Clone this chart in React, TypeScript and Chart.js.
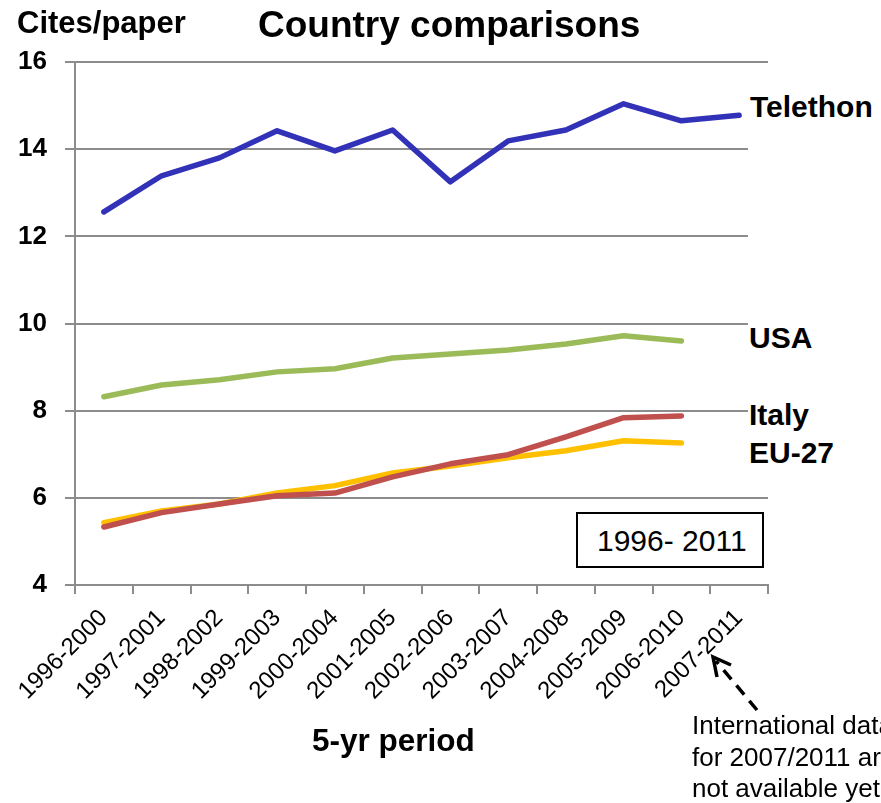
import React, { useEffect, useRef } from 'react';
import { Chart, registerables } from 'chart.js';

Chart.register(...registerables);

const categories = [
  '1996-2000', '1997-2001', '1998-2002', '1999-2003', '2000-2004', '2001-2005',
  '2002-2006', '2003-2007', '2004-2008', '2005-2009', '2006-2010', '2007-2011',
];
const telethon = [12.56, 13.39, 13.8, 14.42, 13.96, 14.44, 13.25, 14.19, 14.44, 15.04, 14.65, 14.78];
const usa = [8.32, 8.59, 8.71, 8.89, 8.96, 9.21, 9.3, 9.39, 9.53, 9.72, 9.6, null];
const italy = [5.33, 5.66, 5.86, 6.05, 6.11, 6.48, 6.78, 6.99, 7.4, 7.84, 7.88, null];
const eu27 = [5.43, 5.7, 5.86, 6.11, 6.28, 6.57, 6.73, 6.92, 7.08, 7.31, 7.26, null];
const yMin = 4;
const yMax = 16;
const yStep = 2;

const FONT = "'Liberation Sans', Arial, sans-serif";
const GRID = '#8c8c8c';

const abs = (extra: React.CSSProperties): React.CSSProperties => ({
  position: 'absolute',
  fontFamily: FONT,
  lineHeight: 1,
  whiteSpace: 'nowrap',
  color: '#000',
  ...extra,
});

export default function App() {
  const ref = useRef<HTMLCanvasElement>(null);

  useEffect(() => {
    const ds = (label: string, data: (number | null)[], color: string) => ({
      label,
      data,
      borderColor: color,
      backgroundColor: color,
      borderWidth: 5.5,
      pointRadius: 0,
      tension: 0,
      borderCapStyle: 'round' as const,
      borderJoinStyle: 'round' as const,
      spanGaps: false,
    });
    const chart = new Chart(ref.current!, {
      type: 'line',
      data: {
        labels: categories,
        datasets: [
          ds('Telethon', telethon, '#3232B9'),
          ds('USA', usa, '#9BBB59'),
          ds('Italy', italy, '#C0504D'),
          ds('EU-27', eu27, '#FFC000'),
        ],
      },
      options: {
        animation: false,
        responsive: false,
        layout: { padding: { top: 62, right: 113, left: 0, bottom: 0 } },
        plugins: { legend: { display: false }, tooltip: { enabled: false }, title: { display: false } },
        scales: {
          x: {
            type: 'category',
            offset: true,
            grid: {
              offset: true,
              drawOnChartArea: false,
              drawTicks: true,
              tickLength: 9,
              color: GRID,
              lineWidth: 2,
            },
            border: { display: true, color: GRID, width: 2 },
            ticks: {
              minRotation: 45,
              maxRotation: 45,
              autoSkip: false,
              padding: 10,
              color: '#000',
              font: { family: FONT, size: 24 },
            },
            afterFit: (s: any) => {
              s.height = 218;
            },
          },
          y: {
            min: yMin,
            max: yMax,
            ticks: {
              stepSize: yStep,
              padding: 18,
              color: '#000',
              font: { family: FONT, size: 26, weight: 'bold' },
            },
            grid: { color: GRID, lineWidth: 2, tickLength: 10 },
            border: { display: true, color: GRID, width: 2 },
            afterFit: (s: any) => {
              s.width = 75;
            },
          },
        },
      },
    });
    return () => chart.destroy();
  }, []);

  return (
    <div
      style={{
        position: 'absolute',
        left: 0,
        top: 0,
        width: 881,
        height: 803,
        overflow: 'hidden',
        background: '#fff',
      }}
    >
      <canvas ref={ref} width={881} height={803} style={{ position: 'absolute', left: 0, top: 0 }} />
      <div style={abs({ left: 17, top: 7, fontSize: 31, fontWeight: 'bold' })}>Cites/paper</div>
      <div style={abs({ left: 258, top: 5.7, fontSize: 37, fontWeight: 'bold' })}>Country comparisons</div>
      <div style={abs({ left: 748, top: 75, width: 133, height: 405, background: '#fff' })} />
      <div style={abs({ left: 750, top: 91.6, fontSize: 30, fontWeight: 'bold' })}>Telethon</div>
      <div style={abs({ left: 749, top: 322.6, fontSize: 30, fontWeight: 'bold' })}>USA</div>
      <div style={abs({ left: 749, top: 399.6, fontSize: 30, fontWeight: 'bold' })}>Italy</div>
      <div style={abs({ left: 749, top: 437.6, fontSize: 30, fontWeight: 'bold' })}>EU-27</div>
      <div
        style={abs({
          left: 576,
          top: 512,
          width: 188,
          height: 56,
          border: '2px solid #000',
          boxSizing: 'border-box',
          background: '#fff',
        })}
      />
      <div style={abs({ left: 597, top: 525.6, fontSize: 30 })}>1996- 2011</div>
      <div style={abs({ left: 312, top: 725, fontSize: 31.5, fontWeight: 'bold' })}>5-yr period</div>
      <div style={abs({ left: 692, top: 710, fontSize: 26, lineHeight: '31.5px' })}>
        International data
        <br />
        for 2007/2011 are
        <br />
        not available yet
      </div>
      <svg
        width={881}
        height={803}
        style={{ position: 'absolute', left: 0, top: 0, pointerEvents: 'none' }}
      >
        <line x1={757} y1={710} x2={716} y2={661} stroke="#000" strokeWidth={3.5} strokeDasharray="12 8" />
        <polyline points="731,665 713,657 717,677" stroke="#000" strokeWidth={3.5} fill="none" />
      </svg>
    </div>
  );
}
